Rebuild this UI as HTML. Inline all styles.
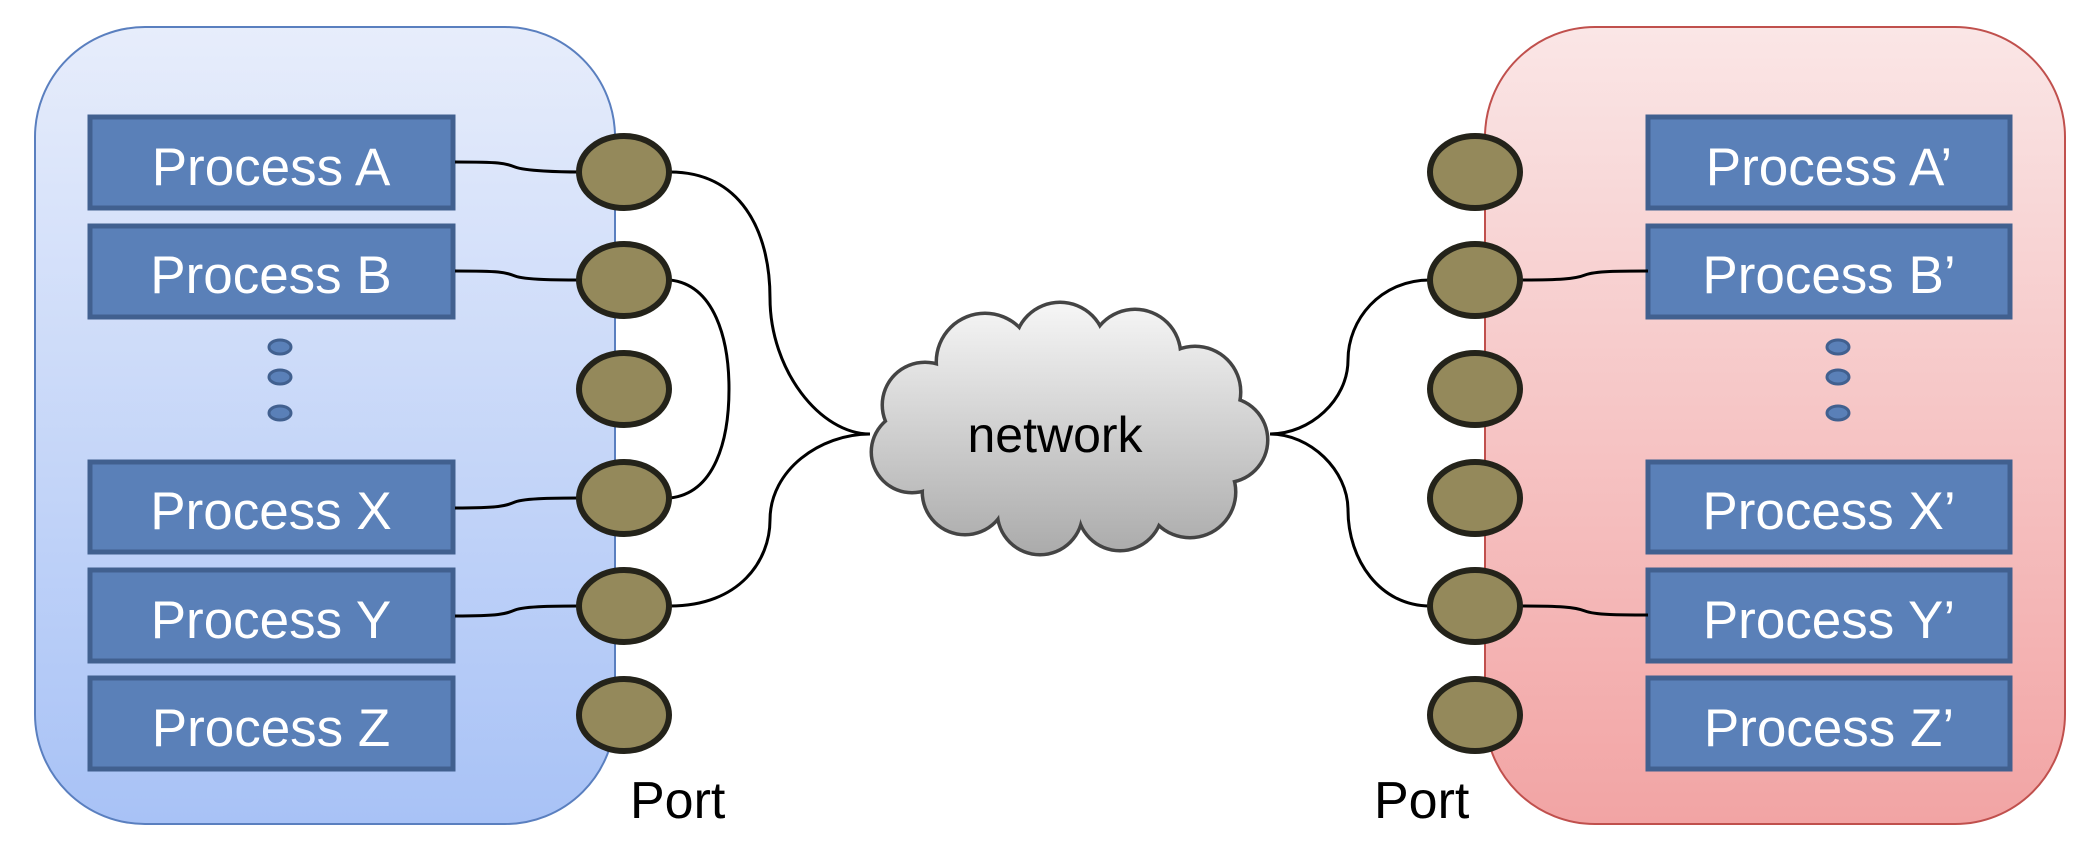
<!DOCTYPE html>
<html><head><meta charset="utf-8"><style>
html,body{margin:0;padding:0;background:#fff;}
svg{display:block;}
text{font-family:"Liberation Sans",sans-serif;}
</style></head><body>
<svg width="2100" height="850" viewBox="0 0 2100 850" xmlns="http://www.w3.org/2000/svg">
<defs>
<linearGradient id="gl" x1="0" y1="0" x2="0" y2="1"><stop offset="0" stop-color="#e7edfb"/><stop offset="1" stop-color="#a8c2f6"/></linearGradient>
<linearGradient id="gr" x1="0" y1="0" x2="0" y2="1"><stop offset="0" stop-color="#fae6e6"/><stop offset="1" stop-color="#f2a4a4"/></linearGradient>
<linearGradient id="gc" gradientUnits="userSpaceOnUse" x1="0" y1="310" x2="0" y2="560"><stop offset="0" stop-color="#f4f4f4"/><stop offset="1" stop-color="#a9a9a9"/></linearGradient>
</defs>
<rect x="35" y="27" width="580" height="797" rx="110" ry="110" fill="url(#gl)" stroke="#5a7fbf" stroke-width="2"/>
<rect x="1485" y="27" width="580" height="797" rx="110" ry="110" fill="url(#gr)" stroke="#c0504d" stroke-width="2"/>

<g fill="#5a80b8" stroke="#41608f" stroke-width="5">
<rect x="90" y="117" width="363" height="91"/>
<rect x="90" y="226" width="363" height="91"/>
<rect x="90" y="462" width="363" height="90"/>
<rect x="90" y="570" width="363" height="91"/>
<rect x="90" y="678" width="363" height="91"/>
<rect x="1648" y="117" width="362" height="91"/>
<rect x="1648" y="226" width="362" height="91"/>
<rect x="1648" y="462" width="362" height="90"/>
<rect x="1648" y="570" width="362" height="91"/>
<rect x="1648" y="678" width="362" height="91"/>
</g>
<g fill="#fff" font-size="53" text-anchor="middle">
<text x="271" y="185">Process A</text>
<text x="271" y="293">Process B</text>
<text x="271" y="529">Process X</text>
<text x="271" y="638">Process Y</text>
<text x="271" y="746">Process Z</text>
<text x="1829" y="185">Process A’</text>
<text x="1829" y="293">Process B’</text>
<text x="1829" y="529">Process X’</text>
<text x="1829" y="638">Process Y’</text>
<text x="1829" y="746">Process Z’</text>
</g>
<g fill="#5a80b8" stroke="#41608f" stroke-width="3">
<ellipse cx="280" cy="347" rx="11" ry="7"/><ellipse cx="280" cy="377" rx="11" ry="7"/><ellipse cx="280" cy="413" rx="11" ry="7"/>
<ellipse cx="1838" cy="347" rx="11" ry="7"/><ellipse cx="1838" cy="377" rx="11" ry="7"/><ellipse cx="1838" cy="413" rx="11" ry="7"/>
</g>

<g fill="none" stroke="#000" stroke-width="3">
<path d="M455 162 C500 162 505 163 515 167 C525 171 560 172 580 172"/>
<path d="M455 271 C500 271 505 272 515 276 C525 280 560 280 580 280"/>
<path d="M455 508 C500 508 505 506 515 502 C525 498 560 498 580 498"/>
<path d="M455 616 C500 616 505 614 515 610 C525 606 560 606 580 606"/>
<path d="M670 172 C740 172 770 230 770 298 C770 370 820 434 870 434"/>
<path d="M670 280 C715 285 729 340 729 389 C729 440 715 493 670 498"/>
<path d="M670 606 C740 606 770 560 770 520 C770 470 820 434 870 434"/>
<path d="M1270 434 C1310 434 1348 400 1348 360 C1348 320 1380 280 1430 280"/>
<path d="M1270 434 C1310 434 1348 470 1348 510 C1348 560 1380 606 1430 606"/>
<path d="M1520 280 C1560 280 1575 279 1585 275 C1595 271 1620 271 1648 271"/>
<path d="M1520 606 C1560 606 1575 607 1585 611 C1595 615 1620 615 1648 615"/>
</g>

<g fill="#94895b" stroke="#24231a" stroke-width="6">
<ellipse cx="624" cy="172" rx="45" ry="36"/><ellipse cx="624" cy="280" rx="45" ry="36"/><ellipse cx="624" cy="389" rx="45" ry="36"/>
<ellipse cx="624" cy="498" rx="45" ry="36"/><ellipse cx="624" cy="606" rx="45" ry="36"/><ellipse cx="624" cy="715" rx="45" ry="36"/>
<ellipse cx="1475" cy="172" rx="45" ry="36"/><ellipse cx="1475" cy="280" rx="45" ry="36"/><ellipse cx="1475" cy="389" rx="45" ry="36"/>
<ellipse cx="1475" cy="498" rx="45" ry="36"/><ellipse cx="1475" cy="606" rx="45" ry="36"/><ellipse cx="1475" cy="715" rx="45" ry="36"/>
</g>

<g id="cl">
<g stroke="#444" stroke-width="5" fill="#444">
<circle cx="925" cy="405" r="42"/><circle cx="985" cy="362" r="48"/><circle cx="1060" cy="348" r="45"/>
<circle cx="1135" cy="355" r="45"/><circle cx="1195" cy="392" r="45"/><circle cx="1225" cy="440" r="42"/>
<circle cx="1190" cy="492" r="45"/><circle cx="1120" cy="508" r="42"/><circle cx="1040" cy="512" r="42"/>
<circle cx="965" cy="492" r="42"/><circle cx="912" cy="452" r="40"/><ellipse cx="1065" cy="435" rx="140" ry="75"/>
</g>
<g fill="url(#gc)">
<circle cx="925" cy="405" r="41"/><circle cx="985" cy="362" r="47"/><circle cx="1060" cy="348" r="44"/>
<circle cx="1135" cy="355" r="44"/><circle cx="1195" cy="392" r="44"/><circle cx="1225" cy="440" r="41"/>
<circle cx="1190" cy="492" r="44"/><circle cx="1120" cy="508" r="41"/><circle cx="1040" cy="512" r="41"/>
<circle cx="965" cy="492" r="41"/><circle cx="912" cy="452" r="39"/><ellipse cx="1065" cy="435" rx="139" ry="74"/>
</g>
</g>
<text x="1055" y="452" font-size="50" text-anchor="middle" fill="#000">network</text>

<text x="630" y="818" font-size="52" fill="#000">Port</text>
<text x="1374" y="818" font-size="52" fill="#000">Port</text>
</svg>
</body></html>
